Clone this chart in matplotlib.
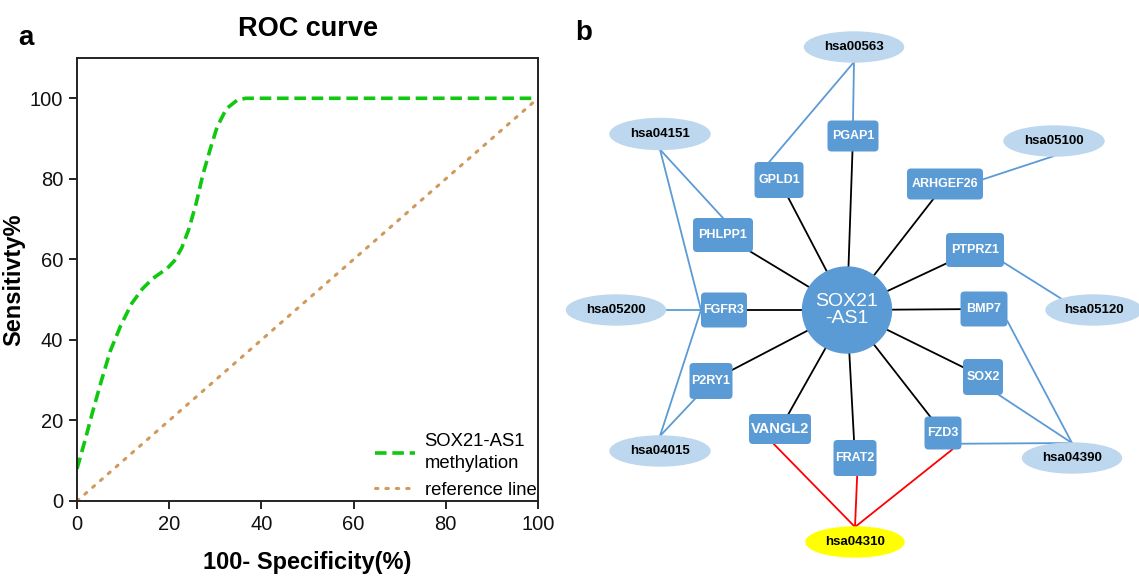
import matplotlib.pyplot as plt
from matplotlib.patches import Ellipse, FancyBboxPatch

plt.rcParams['font.family'] = ['Liberation Sans', 'DejaVu Sans']

# ---- panel a: ROC curve values
fpr = [0, 1.8, 3.5, 5.3, 7.2, 9.5, 11.9, 14.2, 16.5, 19.6, 21.1, 22.7, 24.2,
       25.8, 27.3, 28.9, 30.4, 32.4, 34.7, 36.6, 100]
tpr = [8.0, 15.3, 22.6, 29.9, 37.2, 43.6, 49.1, 52.7, 55.3, 57.8, 59.6, 62.8,
       67.3, 73.7, 81.0, 87.4, 92.9, 97.4, 99.5, 100, 100]
ref_x = [0, 100]
ref_y = [0, 100]
ticks = [0, 20, 40, 60, 80, 100]

# ---- panel b: network
hub = 'SOX21\n-AS1'
genes = ['PGAP1', 'GPLD1', 'ARHGEF26', 'PHLPP1', 'PTPRZ1', 'FGFR3', 'BMP7',
         'P2RY1', 'SOX2', 'VANGL2', 'FRAT2', 'FZD3']
pathways = ['hsa00563', 'hsa04151', 'hsa05100', 'hsa05200', 'hsa05120',
            'hsa04015', 'hsa04390', 'hsa04310']
gene_pathway = [('PGAP1', 'hsa00563'), ('GPLD1', 'hsa00563'),
                ('PHLPP1', 'hsa04151'), ('FGFR3', 'hsa04151'),
                ('ARHGEF26', 'hsa05100'), ('FGFR3', 'hsa05200'),
                ('PTPRZ1', 'hsa05120'), ('FGFR3', 'hsa04015'),
                ('P2RY1', 'hsa04015'), ('BMP7', 'hsa04390'),
                ('SOX2', 'hsa04390'), ('FZD3', 'hsa04390'),
                ('VANGL2', 'hsa04310'), ('FRAT2', 'hsa04310'),
                ('FZD3', 'hsa04310')]
highlight = 'hsa04310'

# node layout in pixels of the figure: x, y, width, height
layout = {
    hub: (847, 310, 89, 86),
    'PGAP1': (853, 136, 51, 31), 'GPLD1': (779, 180, 49, 36),
    'ARHGEF26': (945, 184, 76, 31), 'PHLPP1': (723, 235, 60, 34),
    'PTPRZ1': (975, 250, 58, 34), 'FGFR3': (724, 310, 46, 35),
    'BMP7': (984, 309, 47, 35), 'P2RY1': (711, 381, 43, 36),
    'SOX2': (983, 377, 40, 36), 'VANGL2': (780, 429, 62, 30),
    'FRAT2': (855, 458, 43, 36), 'FZD3': (943, 433, 37, 33),
    'hsa00563': (854, 47, 99, 30), 'hsa04151': (660, 134, 100, 31),
    'hsa05100': (1054, 141, 100, 30), 'hsa05200': (616, 310, 99, 30),
    'hsa05120': (1094, 310, 96, 30), 'hsa04015': (660, 451, 100, 30),
    'hsa04390': (1072, 458, 99, 30), 'hsa04310': (855, 542, 98, 30),
}
# where each gene-pathway edge meets its nodes (fraction of half width/height)
ports = {
    ('PGAP1', 'hsa00563'): ((0, -1), (0, 1)),
    ('GPLD1', 'hsa00563'): ((-0.4, -1), (0, 1)),
    ('PHLPP1', 'hsa04151'): ((0, -1), (0, 1)),
    ('FGFR3', 'hsa04151'): ((-1, 0), (0, 1)),
    ('ARHGEF26', 'hsa05100'): ((1, -0.3), (0, 1)),
    ('FGFR3', 'hsa05200'): ((-1, 0), (1, 0)),
    ('PTPRZ1', 'hsa05120'): ((1, 0.75), (-0.68, -0.75)),
    ('FGFR3', 'hsa04015'): ((-1, 0), (0, -1)),
    ('P2RY1', 'hsa04015'): ((-0.75, 1), (0, -1)),
    ('BMP7', 'hsa04390'): ((1, 0.7), (0, -1)),
    ('SOX2', 'hsa04390'): ((0.8, 1), (0, -1)),
    ('FZD3', 'hsa04390'): ((1, 0.65), (0, -1)),
    ('VANGL2', 'hsa04310'): ((-0.2, 1), (0, -1)),
    ('FRAT2', 'hsa04310'): ((0.1, 1), (0, -1)),
    ('FZD3', 'hsa04310'): ((0.5, 1), (0, -1)),
}

node_blue = '#5b9bd5'
path_blue = '#bdd7ee'


def port_xy(name, frac):
    x, y, w, h = layout[name]
    return x + frac[0] * w / 2, y + frac[1] * h / 2


fig = plt.figure(figsize=(11.39, 5.76), dpi=100)

# ---------------- panel a
ax = fig.add_axes([77 / 1139, 75 / 576, 461 / 1139, 443 / 576])
ax.plot(fpr, tpr, color='#10c810', lw=2.6, linestyle=(0, (3.2, 1.6)),
        label='SOX21-AS1\nmethylation')
ax.plot(ref_x, ref_y, color='#d09a5e', lw=2.2, linestyle=(0, (0.8, 2.6)),
        dash_capstyle='round', label='reference line')
ax.set_xlim(0, 100)
ax.set_ylim(0, 110)
ax.set_xticks(ticks)
ax.set_yticks(ticks)
ax.tick_params(labelsize=14.5, length=6, width=1.3, direction='out',
               pad=4, colors='#111111')
for sp in ax.spines.values():
    sp.set_linewidth(1.4)
    sp.set_color('#222222')
ax.set_title('ROC curve', fontsize=19.5, fontweight='bold', pad=16)
ax.set_xlabel('100- Specificity(%)', fontsize=17, fontweight='bold', labelpad=12)
ax.set_ylabel('Sensitivty%', fontsize=17, fontweight='bold')
ax.yaxis.set_label_coords(-0.112, 0.5)
leg = ax.legend(loc='lower left', bbox_to_anchor=(0.63, -0.012), frameon=False,
                fontsize=13.3, handlelength=2.2, handletextpad=0.5,
                labelspacing=0.55, borderaxespad=0)
for t in leg.get_texts():
    t.set_linespacing(1.35)

fig.text(18 / 1139, 1 - 38 / 576, 'a', fontsize=20, fontweight='bold',
         va='center', ha='left')
fig.text(575 / 1139, 1 - 33 / 576, 'b', fontsize=20, fontweight='bold',
         va='center', ha='left')

# ---------------- panel b
bx = fig.add_axes([560 / 1139, 0, 579 / 1139, 1])
bx.set_xlim(560, 1139)
bx.set_ylim(576, 0)
bx.axis('off')

hx, hy = layout[hub][:2]
for g in genes:
    gx, gy = layout[g][:2]
    bx.plot([hx, gx], [hy, gy], color='black', lw=1.3, zorder=1)

for g, p in gene_pathway:
    a = port_xy(g, ports[(g, p)][0])
    b = port_xy(p, ports[(g, p)][1])
    col = 'red' if p == highlight else node_blue
    bx.plot([a[0], b[0]], [a[1], b[1]], color=col, lw=1.3, zorder=1)

x, y, w, h = layout[hub]
bx.add_patch(Ellipse((x, y), w, h, color=node_blue, zorder=3))
bx.text(x, y, hub, color='white', fontsize=14, ha='center', va='center',
        linespacing=1.0, zorder=4)

for g in genes:
    x, y, w, h = layout[g]
    bx.add_patch(FancyBboxPatch((x - w / 2, y - h / 2), w, h,
                                boxstyle='round,pad=0,rounding_size=4',
                                fc=node_blue, ec='none', zorder=3))
    fs = 10.5 if g == 'VANGL2' else 9
    bx.text(x, y, g, color='white', fontsize=fs, fontweight='bold',
            ha='center', va='center', zorder=4)

for p in pathways:
    x, y, w, h = layout[p]
    fc = '#ffff00' if p == highlight else path_blue
    bx.add_patch(Ellipse((x, y), w, h, color=fc, zorder=3))
    bx.text(x, y, p, color='black', fontsize=9.5, fontweight='bold',
            ha='center', va='center', zorder=4)

fig.savefig('out.png', dpi=100)
